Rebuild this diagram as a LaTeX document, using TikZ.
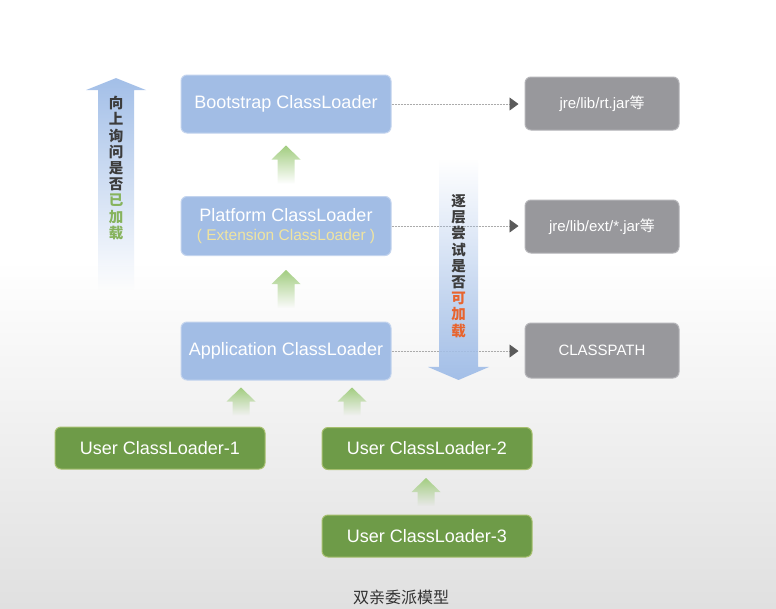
\documentclass[tikz,border=0pt]{standalone}
\usepackage{fontspec}
\setmainfont{Liberation Sans}
\newfontfamily\cjk{Noto Sans CJK SC}
\usetikzlibrary{arrows.meta,calc,fadings}
\definecolor{bluebox}{HTML}{A2BDE5}
\definecolor{blueedge}{HTML}{C3D4EE}
\definecolor{graybox}{HTML}{98989C}
\definecolor{grayedge}{HTML}{B4B4B8}
\definecolor{greenbox}{HTML}{6E9B48}
\definecolor{greenedge}{HTML}{A6BF6E}
\definecolor{greenarr}{HTML}{A2CD80}
\definecolor{bigarr}{HTML}{A3BFE8}
\definecolor{bgbottom}{HTML}{E0E0E0}
\definecolor{linegray}{HTML}{ABABAB}
\definecolor{tipgray}{HTML}{5A5A5A}
\definecolor{txtdark}{HTML}{3C3C3C}
\definecolor{okgreen}{HTML}{86B35C}
\definecolor{okorange}{HTML}{E8642E}
\definecolor{extyellow}{HTML}{F0E4A0}
\tikzfading[name=fadedown, top color=transparent!0, middle color=transparent!25, bottom color=transparent!100]
\tikzfading[name=fadeup, top color=transparent!100, middle color=transparent!40, bottom color=transparent!0]
\begin{document}
\begin{tikzpicture}[x=1pt,y=-1pt,
  box/.style={rounded corners=6pt, inner sep=0pt, align=center, text=white,
    font=\fontsize{18}{20}\selectfont, line width=1pt},
  loader/.style={box, fill=bluebox, draw=blueedge, minimum width=210pt, minimum height=58pt},
  jarbox/.style={box, fill=graybox, draw=grayedge, minimum width=154pt, minimum height=53pt,
    font=\fontsize{15}{18}\selectfont},
  user/.style={box, fill=greenbox, draw=greenedge, minimum width=210pt, minimum height=42pt},
  link/.style={draw=linegray, line width=0.8pt, dash pattern=on 2pt off 1pt,
    -{Triangle[length=9pt,width=13pt,color=tipgray]}, shorten >=6pt},
  vtext/.style={align=center, font=\cjk\bfseries\fontsize{14.5}{16.2}\selectfont, text=txtdark, inner sep=0pt},
  pics/greenup/.style={code={
    \fill[greenarr, path fading=fadedown] (0,0) -- (14.5,14) -- (8.5,14) -- (8.5,#1)
      -- (-8.5,#1) -- (-8.5,14) -- (-14.5,14) -- cycle;}}
]
% background
\fill[white] (0,0) rectangle (776,608);
\shade[top color=white, bottom color=bgbottom] (0,260) rectangle (776,608);
\useasboundingbox (0,0) rectangle (776,608);

% boxes
\node[loader] (boot) at (286,104) {Bootstrap ClassLoader};
\node[loader, minimum height=59pt] (plat) at (286,226) {Platform ClassLoader\\[-1pt]{\fontsize{15.5}{17}\selectfont\color{extyellow}( Extension ClassLoader )}};
\node[loader] (app) at (286,351) {Application ClassLoader};
\node[jarbox] (rt) at (602,103.5) {jre/lib/rt.jar{\cjk 等}};
\node[jarbox] (ext) at (602,226.5) {jre/lib/ext/*.jar{\cjk 等}};
\node[jarbox, minimum height=55pt] (cp) at (602,350.5) {CLASSPATH};
\node[user] (u1) at (160,448) {User ClassLoader-1};
\node[user] (u2) at (427,448.5) {User ClassLoader-2};
\node[user] (u3) at (427,536) {User ClassLoader-3};

% dashed links
\draw[link] (boot.east) -- (boot.east -| rt.west);
\draw[link] (plat.east) -- (plat.east -| ext.west);
\draw[link] (app.east) -- (app.east -| cp.west);

% big arrows
\fill[bigarr, path fading=fadedown] (116,78) -- (146,90) -- (134,90) -- (134,290)
  -- (98,290) -- (98,90) -- (86,90) -- cycle;
\fill[bigarr, path fading=fadeup] (439,160) -- (478,160) -- (478,367) -- (489,367)
  -- (458.5,380) -- (428,367) -- (439,367) -- cycle;
\node[vtext] (askup) at (116,168) {向\\上\\询\\问\\是\\否\\\textcolor{okgreen}{已}\\\textcolor{okgreen}{加}\\\textcolor{okgreen}{载}};
\node[vtext] (trydown) at (458.5,266) {逐\\层\\尝\\试\\是\\否\\\textcolor{okorange}{可}\\\textcolor{okorange}{加}\\\textcolor{okorange}{载}};

% small green arrows
\pic at ($(boot.south)+(0,12)$) {greenup=38};
\pic at ($(plat.south)+(0,14)$) {greenup=38};
\pic at ($(app.south)+(-45,7)$) {greenup=28};
\pic at ($(app.south)+(66,7)$) {greenup=28};
\pic at ($(u2.south)+(-1,8)$) {greenup=28};

% caption
\node[font=\cjk\fontsize{16}{18}\selectfont, text=black!80] (caption) at (401,597) {双亲委派模型};
\end{tikzpicture}
\end{document}
